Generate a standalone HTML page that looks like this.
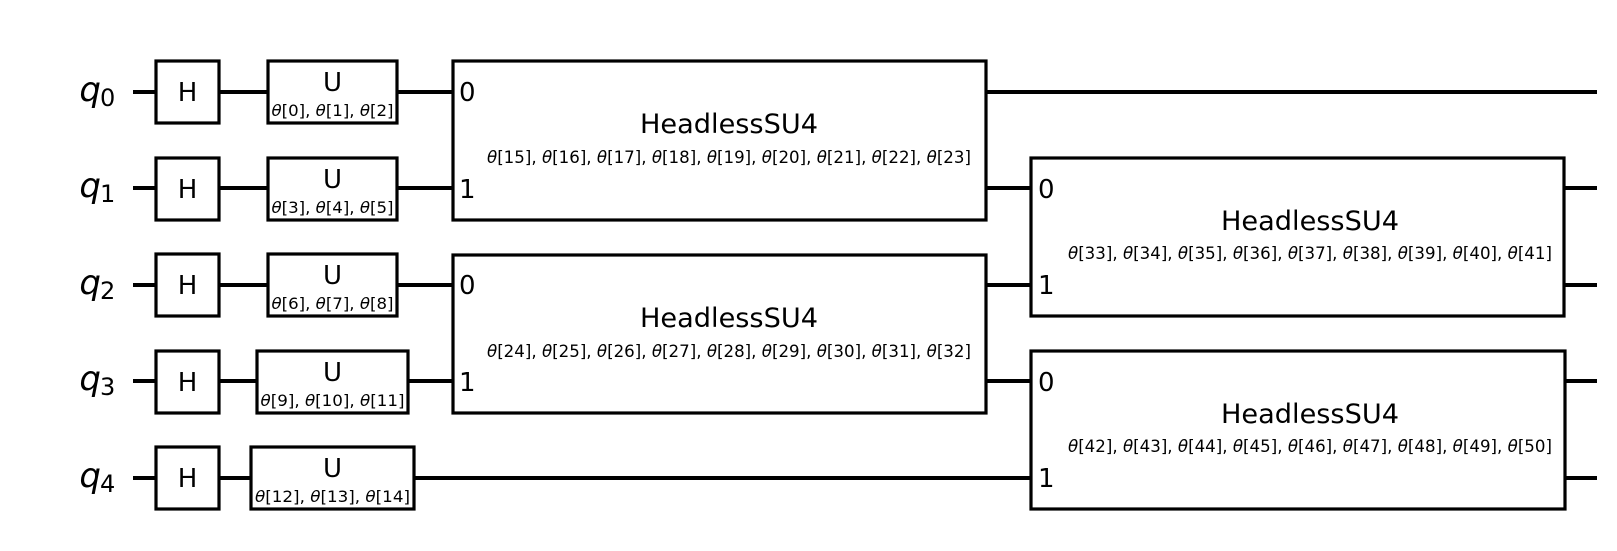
<!DOCTYPE html>
<html><head><meta charset="utf-8"><style>
html,body{margin:0;padding:0;background:#fff;}
svg{display:block;}
text{font-family:"DejaVu Sans","Liberation Sans",sans-serif;fill:#000;}
</style></head><body>
<svg width="1617" height="551" viewBox="0 0 1617 551" xmlns="http://www.w3.org/2000/svg">
<g stroke="#000" stroke-width="4" fill="none">
<line x1="133" y1="92" x2="1597" y2="92"/>
<line x1="133" y1="188" x2="1597" y2="188"/>
<line x1="133" y1="285" x2="1597" y2="285"/>
<line x1="133" y1="381" x2="1597" y2="381"/>
<line x1="133" y1="478" x2="1597" y2="478"/>
</g>
<g stroke="#000" stroke-width="3.2" fill="#fff">
<rect x="156" y="61" width="63" height="62"/>
<rect x="156" y="158" width="63" height="62"/>
<rect x="156" y="254" width="63" height="62"/>
<rect x="156" y="351" width="63" height="62"/>
<rect x="156" y="447" width="63" height="62"/>
<rect x="268" y="61" width="129" height="62"/>
<rect x="268" y="158" width="129" height="62"/>
<rect x="268" y="254" width="129" height="62"/>
<rect x="257" y="351" width="151" height="62"/>
<rect x="251" y="447" width="163" height="62"/>
<rect x="453" y="61" width="533" height="159"/>
<rect x="453" y="255" width="533" height="158"/>
<rect x="1031" y="158" width="533" height="158"/>
<rect x="1031" y="351" width="534" height="158"/>
</g>
<g font-size="34" font-style="oblique" text-anchor="end">
<text x="101" y="101">q</text><text x="101" y="197">q</text><text x="101" y="294">q</text><text x="101" y="390">q</text><text x="101" y="487">q</text>
</g>
<g font-size="24">
<text x="100" y="106">0</text><text x="100" y="202">1</text><text x="100" y="299">2</text><text x="100" y="395">3</text><text x="100" y="492">4</text>
</g>
<g font-size="26" text-anchor="middle">
<text x="187.5" y="101">H</text><text x="187.5" y="198">H</text><text x="187.5" y="294">H</text><text x="187.5" y="391">H</text><text x="187.5" y="487">H</text>
<text x="332.5" y="91">U</text><text x="332.5" y="188">U</text><text x="332.5" y="284">U</text><text x="332.5" y="381">U</text><text x="332.5" y="477">U</text>
</g>
<g font-size="27" text-anchor="middle">
<text x="729" y="133" textLength="178" lengthAdjust="spacingAndGlyphs">HeadlessSU4</text><text x="729" y="327" textLength="178" lengthAdjust="spacingAndGlyphs">HeadlessSU4</text>
<text x="1310" y="230" textLength="178" lengthAdjust="spacingAndGlyphs">HeadlessSU4</text><text x="1310" y="423" textLength="178" lengthAdjust="spacingAndGlyphs">HeadlessSU4</text>
</g>
<g font-size="16" text-anchor="middle">
<text x="332.5" y="116" textLength="122" lengthAdjust="spacingAndGlyphs"><tspan font-style="oblique">θ</tspan>[0], <tspan font-style="oblique">θ</tspan>[1], <tspan font-style="oblique">θ</tspan>[2]</text>
<text x="332.5" y="213" textLength="122" lengthAdjust="spacingAndGlyphs"><tspan font-style="oblique">θ</tspan>[3], <tspan font-style="oblique">θ</tspan>[4], <tspan font-style="oblique">θ</tspan>[5]</text>
<text x="332.5" y="309" textLength="122" lengthAdjust="spacingAndGlyphs"><tspan font-style="oblique">θ</tspan>[6], <tspan font-style="oblique">θ</tspan>[7], <tspan font-style="oblique">θ</tspan>[8]</text>
<text x="332.5" y="406" textLength="144" lengthAdjust="spacingAndGlyphs"><tspan font-style="oblique">θ</tspan>[9], <tspan font-style="oblique">θ</tspan>[10], <tspan font-style="oblique">θ</tspan>[11]</text>
<text x="332.5" y="502" textLength="155" lengthAdjust="spacingAndGlyphs"><tspan font-style="oblique">θ</tspan>[12], <tspan font-style="oblique">θ</tspan>[13], <tspan font-style="oblique">θ</tspan>[14]</text>
</g>
<g font-size="17" text-anchor="middle">
<text x="729" y="163" textLength="484" lengthAdjust="spacingAndGlyphs"><tspan font-style="oblique">θ</tspan>[15], <tspan font-style="oblique">θ</tspan>[16], <tspan font-style="oblique">θ</tspan>[17], <tspan font-style="oblique">θ</tspan>[18], <tspan font-style="oblique">θ</tspan>[19], <tspan font-style="oblique">θ</tspan>[20], <tspan font-style="oblique">θ</tspan>[21], <tspan font-style="oblique">θ</tspan>[22], <tspan font-style="oblique">θ</tspan>[23]</text>
<text x="729" y="357" textLength="484" lengthAdjust="spacingAndGlyphs"><tspan font-style="oblique">θ</tspan>[24], <tspan font-style="oblique">θ</tspan>[25], <tspan font-style="oblique">θ</tspan>[26], <tspan font-style="oblique">θ</tspan>[27], <tspan font-style="oblique">θ</tspan>[28], <tspan font-style="oblique">θ</tspan>[29], <tspan font-style="oblique">θ</tspan>[30], <tspan font-style="oblique">θ</tspan>[31], <tspan font-style="oblique">θ</tspan>[32]</text>
<text x="1310" y="259" textLength="484" lengthAdjust="spacingAndGlyphs"><tspan font-style="oblique">θ</tspan>[33], <tspan font-style="oblique">θ</tspan>[34], <tspan font-style="oblique">θ</tspan>[35], <tspan font-style="oblique">θ</tspan>[36], <tspan font-style="oblique">θ</tspan>[37], <tspan font-style="oblique">θ</tspan>[38], <tspan font-style="oblique">θ</tspan>[39], <tspan font-style="oblique">θ</tspan>[40], <tspan font-style="oblique">θ</tspan>[41]</text>
<text x="1310" y="452" textLength="484" lengthAdjust="spacingAndGlyphs"><tspan font-style="oblique">θ</tspan>[42], <tspan font-style="oblique">θ</tspan>[43], <tspan font-style="oblique">θ</tspan>[44], <tspan font-style="oblique">θ</tspan>[45], <tspan font-style="oblique">θ</tspan>[46], <tspan font-style="oblique">θ</tspan>[47], <tspan font-style="oblique">θ</tspan>[48], <tspan font-style="oblique">θ</tspan>[49], <tspan font-style="oblique">θ</tspan>[50]</text>
</g>
<g font-size="26">
<text x="459" y="101">0</text><text x="459" y="198">1</text>
<text x="459" y="294">0</text><text x="459" y="391">1</text>
<text x="1038" y="198">0</text><text x="1038" y="294">1</text>
<text x="1038" y="391">0</text><text x="1038" y="487">1</text>
</g>
</svg>
</body></html>
